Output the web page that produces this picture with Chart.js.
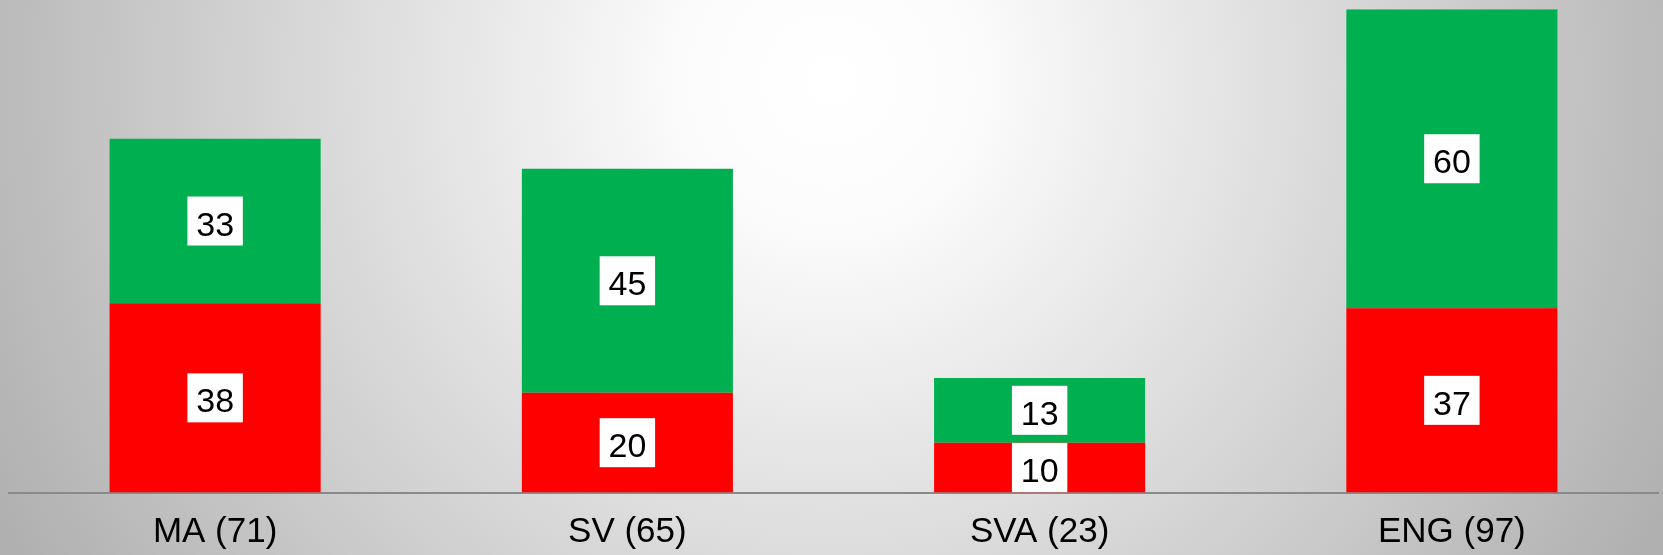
<!DOCTYPE html>
<html>
<head>
<meta charset="utf-8">
<script src="https://cdn.jsdelivr.net/npm/chart.js@4/dist/chart.umd.min.js"></script>
<style>
  html, body { margin: 0; padding: 0; overflow: hidden; }
  canvas { display: block; }
</style>
</head>
<body>
<canvas id="c" width="1663" height="555"></canvas>
<script>
const categories = ['MA (71)', 'SV (65)', 'SVA (23)', 'ENG (97)'];
const redValues = [38, 20, 10, 37];
const greenValues = [33, 45, 13, 60];
const yMax = 97;

const FONT = '"Liberation Sans", Arial, sans-serif';

const bgPlugin = {
  id: 'bg',
  beforeDraw(chart) {
    const ctx = chart.ctx;
    const w = chart.width, h = chart.height;
    ctx.save();
    const g = ctx.createRadialGradient(830, 80, 0, 830, 80, 940);
    g.addColorStop(0, '#ffffff');
    g.addColorStop(0.15, '#fcfcfc');
    g.addColorStop(1, '#b0b0b0');
    ctx.fillStyle = g;
    ctx.fillRect(0, 0, w, h);
    ctx.restore();
  }
};

const labelPlugin = {
  id: 'boxLabels',
  afterDatasetsDraw(chart) {
    const ctx = chart.ctx;
    ctx.save();
    ctx.font = '34px ' + FONT;
    ctx.textAlign = 'center';
    ctx.textBaseline = 'alphabetic';
    chart.data.datasets.forEach((ds, di) => {
      const meta = chart.getDatasetMeta(di);
      meta.data.forEach((bar, i) => {
        const txt = String(ds.data[i]);
        const cy = (bar.y + bar.base) / 2;
        const tw = ctx.measureText(txt).width;
        const bw = tw + 17.6;
        const bh = 49;
        ctx.fillStyle = '#ffffff';
        ctx.fillRect(bar.x - bw / 2, cy - bh / 2, bw, bh);
        ctx.fillStyle = '#000000';
        ctx.fillText(txt, bar.x, cy + 14.5);
      });
    });
    ctx.restore();
  }
};

new Chart(document.getElementById('c'), {
  type: 'bar',
  data: {
    labels: categories,
    datasets: [
      { data: redValues, backgroundColor: '#ff0000', borderWidth: 0 },
      { data: greenValues, backgroundColor: '#00b050', borderWidth: 0 }
    ]
  },
  options: {
    responsive: false,
    devicePixelRatio: 1,
    animation: false,
    layout: { padding: { left: 9, right: 5, top: 9.3, bottom: 0 } },
    plugins: { legend: { display: false }, tooltip: { enabled: false } },
    datasets: { bar: { barPercentage: 0.512, categoryPercentage: 1.0 } },
    scales: {
      x: {
        stacked: true,
        grid: { display: false, drawTicks: false },
        border: { display: true, color: '#8a8a8a', width: 2 },
        ticks: { color: '#000000', font: { family: FONT, size: 35 }, padding: 19, maxRotation: 0, autoSkip: false },
        afterFit(scale) { scale.height = 62.5; }
      },
      y: {
        stacked: true,
        display: false,
        min: 0,
        max: yMax
      }
    }
  },
  plugins: [bgPlugin, labelPlugin]
});
</script>
</body>
</html>
